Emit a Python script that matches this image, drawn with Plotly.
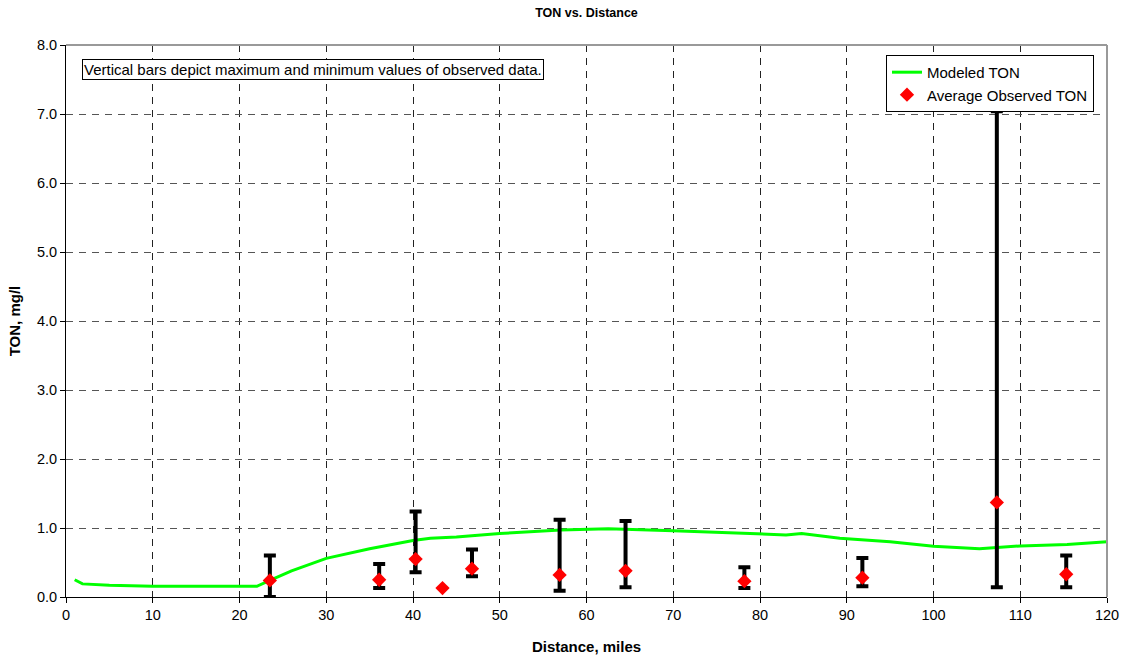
import plotly.graph_objects as go

# Modeled TON (green line)
model_x = [1.0, 1.9, 5, 10, 15, 22.0, 23.5, 26, 30, 35, 40, 42, 45, 50, 57, 60, 62.5, 70, 80, 83, 84.8, 89.2, 95, 100, 105.3, 107.3, 110, 115.4, 120.7]
model_y = [0.25, 0.19, 0.17, 0.155, 0.155, 0.155, 0.24, 0.38, 0.56, 0.70, 0.82, 0.85, 0.87, 0.92, 0.97, 0.98, 0.99, 0.96, 0.92, 0.90, 0.92, 0.85, 0.80, 0.735, 0.70, 0.715, 0.74, 0.76, 0.805]

# Observed TON: average, max, min (None = no bar)
obs_x = [23.5, 36.1, 40.3, 43.4, 46.8, 56.9, 64.5, 78.2, 91.8, 107.3, 115.3]
obs_avg = [0.24, 0.25, 0.55, 0.13, 0.41, 0.32, 0.38, 0.23, 0.28, 1.37, 0.33]
obs_max = [0.60, 0.48, 1.24, None, 0.69, 1.12, 1.10, 0.43, 0.565, 7.04, 0.60]
obs_min = [0.00, 0.13, 0.36, None, 0.30, 0.09, 0.14, 0.13, 0.155, 0.14, 0.14]

x_ticks = list(range(0, 121, 10))
y_ticks = [0, 1, 2, 3, 4, 5, 6, 7, 8]

FONT = "Liberation Sans, Arial, sans-serif"

bx, by, bp, bm = [], [], [], []
for x, a, hi, lo in zip(obs_x, obs_avg, obs_max, obs_min):
    if hi is None:
        continue
    bx.append(x)
    by.append(a)
    bp.append(hi - a)
    bm.append(a - lo)

fig = go.Figure()
fig.add_trace(go.Scatter(
    x=model_x, y=model_y, mode="lines", name="Modeled TON",
    line=dict(color="#00ff00", width=3), showlegend=True))
fig.add_trace(go.Scatter(
    x=bx, y=by, mode="markers", showlegend=False, hoverinfo="skip",
    marker=dict(size=1, color="rgba(0,0,0,0)"),
    error_y=dict(type="data", symmetric=False, array=bp, arrayminus=bm,
                 color="black", thickness=4, width=6)))
fig.add_trace(go.Scatter(
    x=obs_x, y=obs_avg, mode="markers", name="Average Observed TON",
    marker=dict(symbol="diamond", size=11, color="#ff0000")))

fig.update_layout(
    width=1125, height=660,
    margin=dict(l=66, r=18, t=45, b=63, autoexpand=False),
    paper_bgcolor="white", plot_bgcolor="white",
    font=dict(family=FONT, size=14.5, color="black"),
    title=dict(text="<b>TON vs. Distance</b>", x=0.5, xref="paper", y=0.988,
               yanchor="top", font=dict(size=12.5)),
    legend=dict(x=0.9875, y=0.982, xanchor="right", yanchor="top",
                bgcolor="white", bordercolor="black", borderwidth=1,
                font=dict(size=15), tracegroupgap=0, itemwidth=30),
    showlegend=True,
)
fig.update_xaxes(
    range=[0, 120], tickvals=x_ticks, ticks="outside", ticklen=5,
    tickcolor="black", showline=True, linecolor="black", linewidth=1,
    showgrid=True, gridcolor="#222", griddash="7px,6px", gridwidth=1,
    zeroline=False, automargin=False,
    title=dict(text="<b>Distance, miles</b>", font=dict(size=15), standoff=19))
fig.update_yaxes(
    range=[0, 8], tickvals=y_ticks, tickformat=".1f", ticks="outside",
    ticklen=5, tickcolor="black", showline=True, linecolor="black",
    linewidth=1, showgrid=True, gridcolor="#555", griddash="7px,6px",
    gridwidth=1, zeroline=False, automargin=False,
    title=dict(text="<b>TON, mg/l</b>", font=dict(size=15), standoff=12))

# grey frame top & right
fig.add_shape(type="line", xref="paper", yref="paper", x0=0, x1=1, y0=1, y1=1,
              line=dict(color="#999", width=2))
fig.add_shape(type="line", xref="paper", yref="paper", x0=1, x1=1, y0=0, y1=1,
              line=dict(color="#999", width=2))

fig.add_annotation(
    xref="paper", yref="paper", x=0.0151, y=0.9746, xanchor="left", yanchor="top",
    text="Vertical bars depict maximum and minimum values of observed data.",
    showarrow=False, font=dict(size=15), bgcolor="white",
    bordercolor="black", borderwidth=1, borderpad=1)

fig.write_html("out.html")
